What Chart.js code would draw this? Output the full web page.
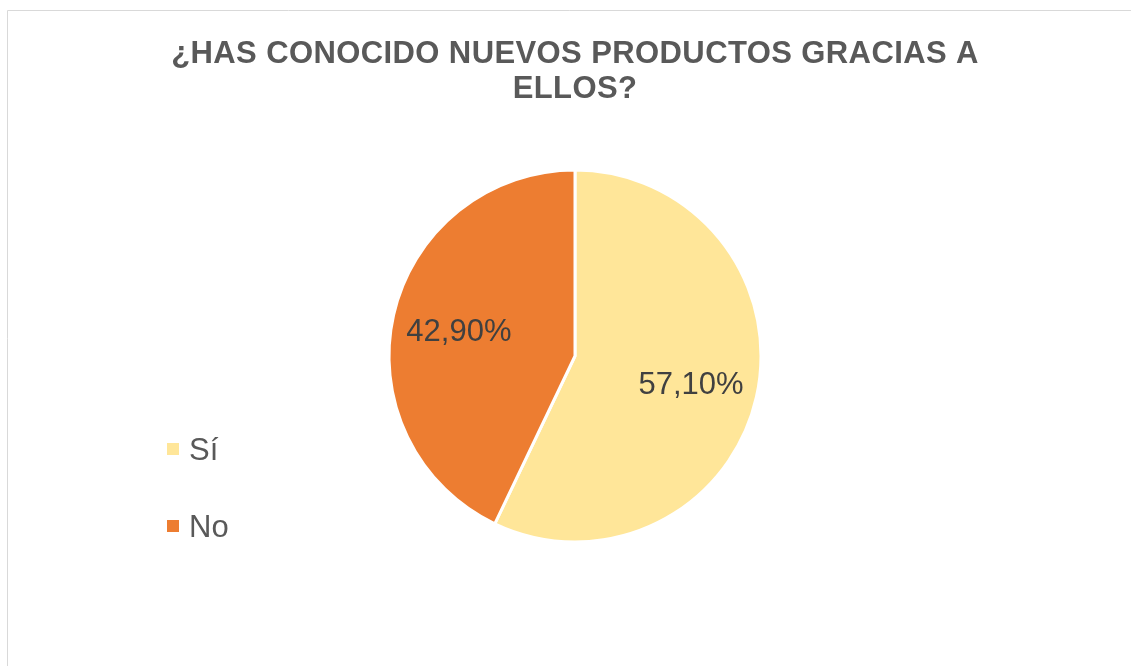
<!DOCTYPE html>
<html lang="es">
<head>
<meta charset="utf-8">
<title>¿Has conocido nuevos productos gracias a ellos?</title>
<script src="https://cdn.jsdelivr.net/npm/chart.js@4.4.1/dist/chart.umd.min.js"></script>
<style>
  html, body { margin: 0; padding: 0; background: #fff; }
  #wrap { position: relative; width: 1131px; height: 666px; }
</style>
</head>
<body>
<div id="wrap"><canvas id="pie"></canvas></div>
<script>
// Survey answers
const labels = ['Sí', 'No'];
const shares = [57.1, 42.9];
const sliceColors = ['#FFE699', '#ED7D31'];
const titleLines = ['¿HAS CONOCIDO NUEVOS PRODUCTOS GRACIAS A', 'ELLOS?'];

const FONT = '"Liberation Sans", Arial, sans-serif';

function fmtPct(v) {
  return v.toFixed(2).replace('.', ',') + '%';
}

// Frame, title, legend and slice labels
const decor = {
  id: 'decor',
  beforeDraw(chart) {
    const ctx = chart.ctx;
    ctx.save();
    ctx.strokeStyle = '#d9d9d9';
    ctx.lineWidth = 1;
    ctx.beginPath();
    ctx.moveTo(chart.width + 5, 10.5);
    ctx.lineTo(7.5, 10.5);
    ctx.lineTo(7.5, chart.height + 5);
    ctx.stroke();
    ctx.restore();
  },
  afterDraw(chart) {
    const ctx = chart.ctx;
    const meta = chart.getDatasetMeta(0);
    ctx.save();

    // title
    ctx.fillStyle = '#595959';
    ctx.font = 'bold 31px ' + FONT;
    ctx.letterSpacing = '0.4px';
    ctx.textAlign = 'center';
    ctx.textBaseline = 'alphabetic';
    titleLines.forEach((line, i) => {
      ctx.fillText(line, 575, 63 + i * 35);
    });
    ctx.letterSpacing = '0px';

    // legend
    ctx.textAlign = 'left';
    ctx.font = '31px ' + FONT;
    labels.forEach((lab, i) => {
      const cy = 449 + i * 77;
      ctx.fillStyle = sliceColors[i];
      ctx.fillRect(167, cy - 6, 12, 12);
      ctx.fillStyle = '#595959';
      ctx.fillText(lab, 189, cy + 11);
    });

    // value labels inside slices
    ctx.textAlign = 'center';
    ctx.textBaseline = 'middle';
    ctx.fillStyle = '#404040';
    meta.data.forEach((arc, i) => {
      const p = arc.getProps(['x', 'y', 'startAngle', 'endAngle', 'outerRadius'], true);
      const mid = (p.startAngle + p.endAngle) / 2;
      const r = p.outerRadius * 0.64;
      ctx.fillText(fmtPct(shares[i]), p.x + Math.cos(mid) * r, p.y + Math.sin(mid) * r + 3);
    });
    ctx.restore();
  }
};

new Chart(document.getElementById('pie'), {
  type: 'pie',
  data: {
    labels: labels,
    datasets: [{
      data: shares,
      backgroundColor: sliceColors,
      borderColor: '#ffffff',
      borderWidth: 3
    }]
  },
  options: {
    responsive: true,
    maintainAspectRatio: false,
    animation: false,
    layout: {
      padding: { left: 387.5, right: 368.5, top: 168.5, bottom: 122.5 }
    },
    plugins: {
      legend: { display: false },
      title: { display: false },
      tooltip: { enabled: false }
    }
  },
  plugins: [decor]
});
</script>
</body>
</html>
